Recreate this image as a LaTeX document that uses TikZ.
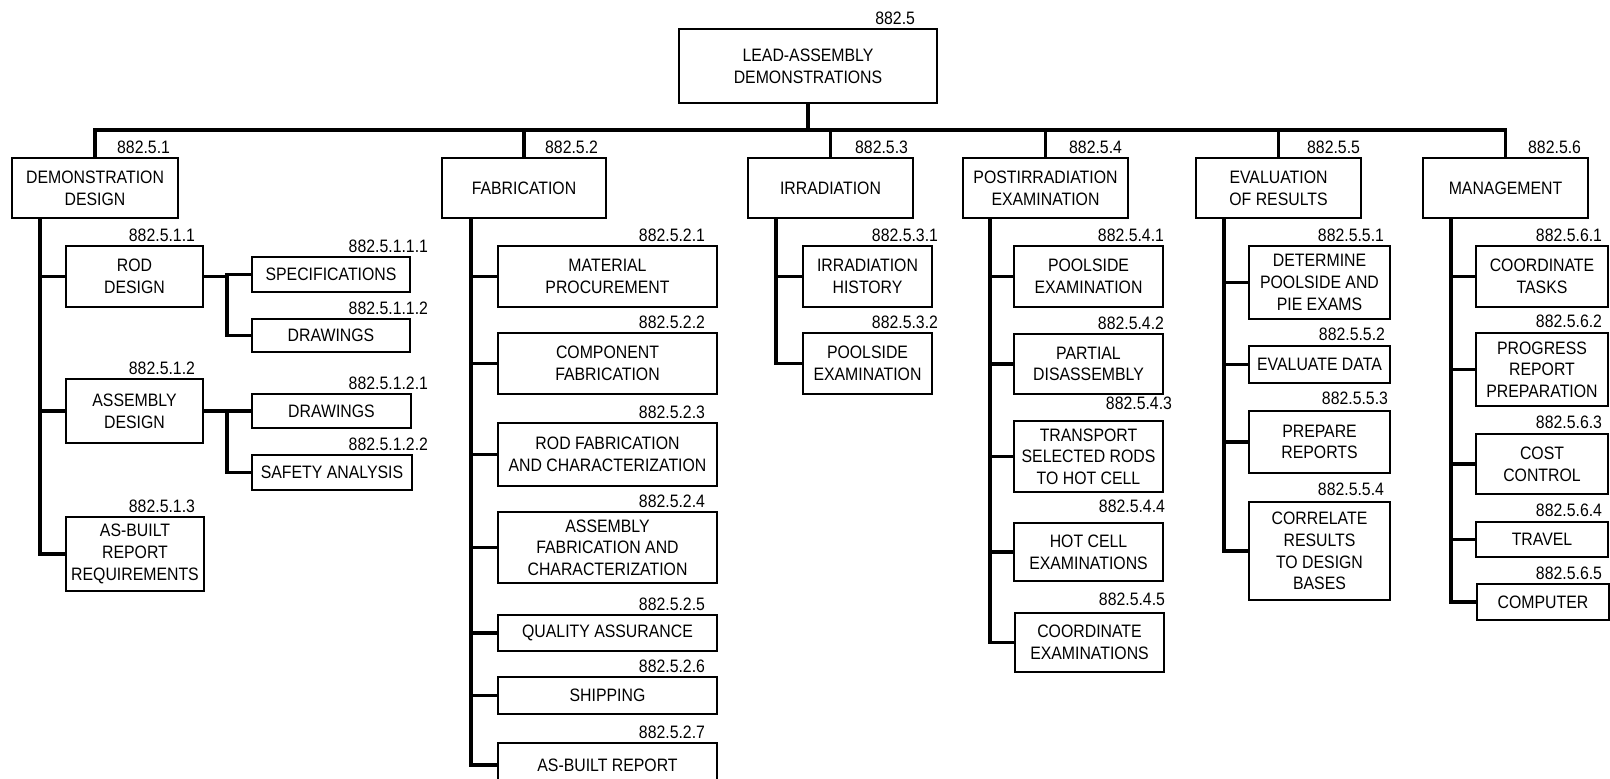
\documentclass[tikz,border=0pt]{standalone}
\usepackage{fontspec}
\setmainfont{Liberation Sans}[FakeStretch=0.88]
\tikzset{
  wbsbox/.style={draw, line width=1pt, inner sep=0pt, outer sep=0pt, align=center,
    font=\fontsize{9}{10.85}\selectfont},
  numlbl/.style={anchor=base east, inner sep=0pt, outer sep=0pt,
    font=\fontsize{9}{10.85}\selectfont},
  conn/.style={line width=1.6pt},
}
% name, left, top, right, bottom, text  (pixel units, y downwards)
\newcommand\wbs[6]{\node[wbsbox, minimum width={(#4-#2)*0.5pt}, minimum height={(#5-#3)*0.5pt}] (#1) at ({(#2+#4)/2},{(#3+#5)/2}) {#6};}
% name, right x, baseline y, text
\newcommand\wbsnum[4]{\node[numlbl] (#1) at (#2,#3) {#4};}
\begin{document}
\begin{tikzpicture}[x=0.5pt,y=-0.5pt]
\useasboundingbox (0,0) rectangle (1610,778);
\clip (0,0) rectangle (1610,778);

% ---- top
\wbs{top}{679}{29}{937}{103}{LEAD-ASSEMBLY\\DEMONSTRATIONS}
\wbsnum{ntop}{915}{24}{882.5}

% ---- level 1
\wbs{dd}{12}{158}{178}{218}{DEMONSTRATION\\DESIGN}
\wbs{fab}{442}{158}{606}{218}{FABRICATION}
\wbs{irr}{748}{158}{913}{218}{IRRADIATION}
\wbs{pie}{963}{158}{1128}{218}{POSTIRRADIATION\\EXAMINATION}
\wbs{eval}{1196}{158}{1361}{218}{EVALUATION\\OF RESULTS}
\wbs{mgmt}{1423}{158}{1588}{218}{MANAGEMENT}
\wbsnum{ndd}{170}{153}{882.5.1}
\wbsnum{nfab}{598}{153}{882.5.2}
\wbsnum{nirr}{908}{153}{882.5.3}
\wbsnum{npie}{1122}{153}{882.5.4}
\wbsnum{neval}{1360}{153}{882.5.5}
\wbsnum{nmgmt}{1581}{153}{882.5.6}

% ---- demonstration design
\wbs{rod}{66}{246}{203}{307}{ROD\\DESIGN}
\wbs{asm}{66}{379}{203}{443}{ASSEMBLY\\DESIGN}
\wbs{asb}{66}{517}{204}{591}{AS-BUILT\\REPORT\\REQUIREMENTS}
\wbsnum{nrod}{195}{241}{882.5.1.1}
\wbsnum{nasm}{195}{374}{882.5.1.2}
\wbsnum{nasb}{195}{512}{882.5.1.3}
\wbs{spec}{252}{257}{410}{292}{SPECIFICATIONS}
\wbs{dra}{252}{319}{410}{352}{DRAWINGS}
\wbs{drb}{252}{394}{411}{428}{DRAWINGS}
\wbs{safe}{252}{455}{412}{490}{SAFETY ANALYSIS}
\wbsnum{nspec}{428}{252}{882.5.1.1.1}
\wbsnum{ndra}{428}{314}{882.5.1.1.2}
\wbsnum{ndrb}{428}{389}{882.5.1.2.1}
\wbsnum{nsafe}{428}{450}{882.5.1.2.2}

% ---- fabrication
\wbs{mat}{498}{246}{717}{307}{MATERIAL\\PROCUREMENT}
\wbs{comp}{498}{333}{717}{394}{COMPONENT\\FABRICATION}
\wbs{rodf}{498}{423}{717}{486}{ROD FABRICATION\\AND CHARACTERIZATION}
\wbs{asmf}{498}{512}{717}{583}{ASSEMBLY\\FABRICATION AND\\CHARACTERIZATION}
\wbs{qa}{498}{615}{717}{651}{QUALITY ASSURANCE}
\wbs{ship}{498}{677}{717}{714}{SHIPPING}
\wbs{asbr}{498}{743}{717}{787}{AS-BUILT REPORT}
\wbsnum{nmat}{705}{241}{882.5.2.1}
\wbsnum{ncomp}{705}{328}{882.5.2.2}
\wbsnum{nrodf}{705}{418}{882.5.2.3}
\wbsnum{nasmf}{705}{507}{882.5.2.4}
\wbsnum{nqa}{705}{610}{882.5.2.5}
\wbsnum{nship}{705}{672}{882.5.2.6}
\wbsnum{nasbr}{705}{738}{882.5.2.7}

% ---- irradiation
\wbs{irh}{803}{246}{932}{307}{IRRADIATION\\HISTORY}
\wbs{ipe}{803}{333}{932}{394}{POOLSIDE\\EXAMINATION}
\wbsnum{nirh}{938}{241}{882.5.3.1}
\wbsnum{nipe}{938}{328}{882.5.3.2}

% ---- postirradiation examination
\wbs{ppe}{1014}{246}{1163}{307}{POOLSIDE\\EXAMINATION}
\wbs{pd}{1014}{334}{1163}{394}{PARTIAL\\DISASSEMBLY}
\wbs{tr}{1014}{421}{1163}{492}{TRANSPORT\\SELECTED RODS\\TO HOT CELL}
\wbs{hc}{1014}{523}{1163}{581}{HOT CELL\\EXAMINATIONS}
\wbs{ce}{1015}{613}{1164}{672}{COORDINATE\\EXAMINATIONS}
\wbsnum{nppe}{1164}{241}{882.5.4.1}
\wbsnum{npd}{1164}{329}{882.5.4.2}
\wbsnum{ntr}{1172}{409}{882.5.4.3}
\wbsnum{nhc}{1165}{512}{882.5.4.4}
\wbsnum{nce}{1165}{605}{882.5.4.5}

% ---- evaluation of results
\wbs{det}{1249}{246}{1390}{319}{DETERMINE\\POOLSIDE AND\\PIE EXAMS}
\wbs{ed}{1249}{346}{1390}{383}{EVALUATE DATA}
\wbs{pr}{1249}{411}{1390}{473}{PREPARE\\REPORTS}
\wbs{cor}{1249}{502}{1390}{600}{CORRELATE\\RESULTS\\TO DESIGN\\BASES}
\wbsnum{ndet}{1384}{241}{882.5.5.1}
\wbsnum{ned}{1385}{340}{882.5.5.2}
\wbsnum{npr}{1388}{404}{882.5.5.3}
\wbsnum{ncor}{1384}{495}{882.5.5.4}

% ---- management
\wbs{ct}{1476}{246}{1608}{307}{COORDINATE\\TASKS}
\wbs{prp}{1476}{333}{1608}{406}{PROGRESS\\REPORT\\PREPARATION}
\wbs{cc}{1476}{434}{1608}{494}{COST\\CONTROL}
\wbs{tv}{1476}{522}{1608}{557}{TRAVEL}
\wbs{cmp}{1477}{584}{1609}{620}{COMPUTER}
\wbsnum{nct}{1602}{241}{882.5.6.1}
\wbsnum{nprp}{1602}{327}{882.5.6.2}
\wbsnum{ncc}{1602}{428}{882.5.6.3}
\wbsnum{ntv}{1602}{516}{882.5.6.4}
\wbsnum{ncmp}{1602}{579}{882.5.6.5}

% ---- connectors
\draw[conn] (top.south) -- ++(0,27) coordinate (bus);
\foreach \c in {dd,fab,irr,pie,eval,mgmt} \draw[conn] (bus) -| (\c.north);

\foreach \c in {rod,asm,asb} \draw[conn] ([xshift=14pt]dd.south west) |- (\c.west);
\foreach \c in {mat,comp,rodf,asmf,qa,ship,asbr} \draw[conn] ([xshift=14.5pt]fab.south west) |- (\c.west);
\foreach \c in {irh,ipe} \draw[conn] ([xshift=14pt]irr.south west) |- (\c.west);
\foreach \c in {ppe,pd,tr,hc,ce} \draw[conn] ([xshift=13.5pt]pie.south west) |- (\c.west);
\foreach \c in {det,ed,pr,cor} \draw[conn] ([xshift=14pt]eval.south west) |- (\c.west);
\foreach \c in {ct,prp,cc,tv,cmp} \draw[conn] ([xshift=14pt]mgmt.south west) |- (\c.west);

\draw[conn] (rod.east) -- ++(24,0) coordinate (jr);
\foreach \c in {spec,dra} \draw[conn] (jr) |- (\c.west);
\draw[conn] (asm.east) -- ++(24,0) coordinate (ja);
\foreach \c in {drb,safe} \draw[conn] (ja) |- (\c.west);
\end{tikzpicture}
\end{document}
